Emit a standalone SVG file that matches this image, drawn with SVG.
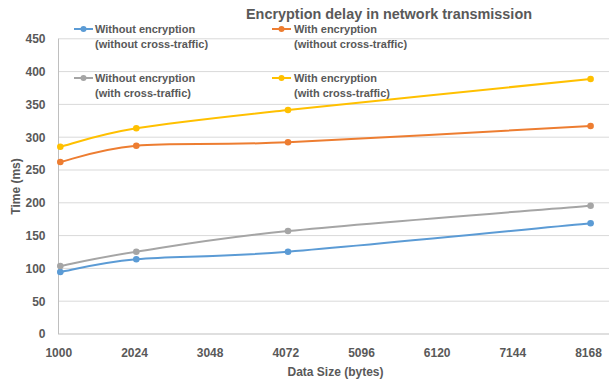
<svg xmlns="http://www.w3.org/2000/svg" width="610" height="384" viewBox="0 0 610 384">
<style>
text{font-family:"Liberation Sans",Arial,sans-serif;font-weight:bold;fill:#595959}
.tick{font-size:12px}
.leg{font-size:11px}
.grid{stroke:#D9D9D9;stroke-width:1}
.axis{stroke:#BFBFBF;stroke-width:1}
.s{fill:none;stroke-width:2}
</style>
<rect width="610" height="384" fill="#FFFFFF"/>
<text x="246" y="19" font-size="15" textLength="286" lengthAdjust="spacingAndGlyphs">Encryption delay in network transmission</text>
<g id="grid">
<line class="grid" x1="58" y1="38.8" x2="609" y2="38.8"/>
<line class="grid" x1="58" y1="71.6" x2="609" y2="71.6"/>
<line class="grid" x1="58" y1="104.4" x2="609" y2="104.4"/>
<line class="grid" x1="58" y1="137.2" x2="609" y2="137.2"/>
<line class="grid" x1="58" y1="170" x2="609" y2="170"/>
<line class="grid" x1="58" y1="202.8" x2="609" y2="202.8"/>
<line class="grid" x1="58" y1="235.6" x2="609" y2="235.6"/>
<line class="grid" x1="58" y1="268.4" x2="609" y2="268.4"/>
<line class="grid" x1="58" y1="301.2" x2="609" y2="301.2"/>
<line class="axis" x1="58" y1="334" x2="609" y2="334"/>
<line class="axis" x1="58.5" y1="38.8" x2="58.5" y2="334"/>
</g>
<g id="y-ticks" text-anchor="end">
<text class="tick" x="45.5" y="43.2">450</text>
<text class="tick" x="45.5" y="76">400</text>
<text class="tick" x="45.5" y="108.8">350</text>
<text class="tick" x="45.5" y="141.6">300</text>
<text class="tick" x="45.5" y="174.4">250</text>
<text class="tick" x="45.5" y="207.2">200</text>
<text class="tick" x="45.5" y="240">150</text>
<text class="tick" x="45.5" y="272.8">100</text>
<text class="tick" x="45.5" y="305.6">50</text>
<text class="tick" x="45.5" y="338.4">0</text>
</g>
<g id="x-ticks" text-anchor="middle">
<text class="tick" x="58.8" y="357">1000</text>
<text class="tick" x="134.5" y="357">2024</text>
<text class="tick" x="210.1" y="357">3048</text>
<text class="tick" x="285.8" y="357">4072</text>
<text class="tick" x="361.5" y="357">5096</text>
<text class="tick" x="437.2" y="357">6120</text>
<text class="tick" x="512.8" y="357">7144</text>
<text class="tick" x="588.5" y="357">8168</text>
</g>
<text class="tick" x="335.5" y="376" text-anchor="middle">Data Size (bytes)</text>
<text class="tick" transform="translate(19.5,186.5) rotate(-90)" text-anchor="middle">Time (ms)</text>
<g id="connectors">
<path id="s-blue" class="s" stroke="#5B9BD5" d="M60.3,272 C72.7,269.9 98.3,262.7 136.3,259.3 C174.3,255.9 212.3,257.7 288,251.7 C363.7,245.7 540.2,228 590.6,223.3"/>
<path id="s-gray" class="s" stroke="#A5A5A5" d="M60.3,266 C72.7,263.6 98.3,257.5 136.3,251.7 C174.3,245.9 212.3,238.7 288,231 C363.7,223.3 540.2,209.9 590.6,205.7"/>
<path id="s-orange" class="s" stroke="#ED7D31" d="M60.3,162 C72.7,159.3 98.3,149 136.3,145.7 C174.3,142.4 212.3,145.6 288,142.3 C363.7,139 540.2,128.7 590.6,126"/>
<path id="s-yellow" class="s" stroke="#FFC000" d="M60.3,146.7 C72.7,143.6 98.3,134.4 136.3,128.3 C174.3,122.2 212.3,118.2 288,110 C363.7,101.8 540.2,84.2 590.6,79"/>
</g>
<g id="points-blue" fill="#5B9BD5">
<circle cx="60.3" cy="272" r="3.3"/><circle cx="136.3" cy="259.3" r="3.3"/><circle cx="288" cy="251.7" r="3.3"/><circle cx="590.6" cy="223.3" r="3.3"/>
</g>
<g id="points-gray" fill="#A5A5A5">
<circle cx="60.3" cy="266" r="3.3"/><circle cx="136.3" cy="251.7" r="3.3"/><circle cx="288" cy="231" r="3.3"/><circle cx="590.6" cy="205.7" r="3.3"/>
</g>
<g id="points-orange" fill="#ED7D31">
<circle cx="60.3" cy="162" r="3.3"/><circle cx="136.3" cy="145.7" r="3.3"/><circle cx="288" cy="142.3" r="3.3"/><circle cx="590.6" cy="126" r="3.3"/>
</g>
<g id="points-yellow" fill="#FFC000">
<circle cx="60.3" cy="146.7" r="3.3"/><circle cx="136.3" cy="128.3" r="3.3"/><circle cx="288" cy="110" r="3.3"/><circle cx="590.6" cy="79" r="3.3"/>
</g>
<g id="legend-blue">
<line x1="74" y1="29" x2="93" y2="29" stroke="#5B9BD5" stroke-width="2"/>
<circle cx="83.5" cy="29" r="3" fill="#5B9BD5"/>
<text class="leg" x="95" y="32.5">Without encryption</text>
<text class="leg" x="95" y="48">(without cross-traffic)</text>
</g>
<g id="legend-orange">
<line x1="272" y1="29" x2="291" y2="29" stroke="#ED7D31" stroke-width="2"/>
<circle cx="281.5" cy="29" r="3" fill="#ED7D31"/>
<text class="leg" x="294" y="32.5">With encryption</text>
<text class="leg" x="294" y="48">(without cross-traffic)</text>
</g>
<g id="legend-gray">
<line x1="74" y1="78" x2="93" y2="78" stroke="#A5A5A5" stroke-width="2"/>
<circle cx="83.5" cy="78" r="3" fill="#A5A5A5"/>
<text class="leg" x="95" y="81.5">Without encryption</text>
<text class="leg" x="95" y="97">(with cross-traffic)</text>
</g>
<g id="legend-yellow">
<line x1="272" y1="78" x2="291" y2="78" stroke="#FFC000" stroke-width="2"/>
<circle cx="281.5" cy="78" r="3" fill="#FFC000"/>
<text class="leg" x="294" y="81.5">With encryption</text>
<text class="leg" x="294" y="97">(with cross-traffic)</text>
</g>
</svg>
